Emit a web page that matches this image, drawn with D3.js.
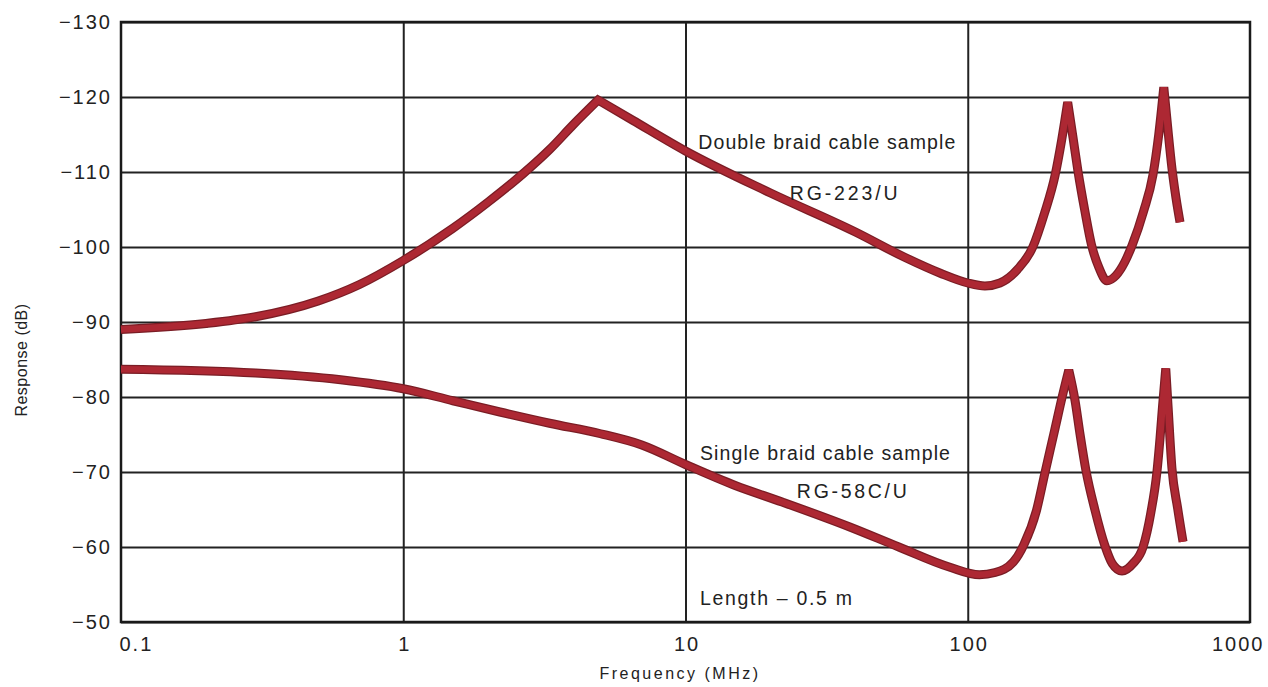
<!DOCTYPE html>
<html>
<head>
<meta charset="utf-8">
<script src="https://cdn.jsdelivr.net/npm/d3@7"></script>
<style>
  body { margin: 0; background: #fff; }
  svg { display: block; font-family: "Liberation Sans", Arial, sans-serif; }
  .tick text { fill: #222; font-size: 20px; letter-spacing: 2px; }
  .axis path { display: none; }
  .grid line { stroke: #222; stroke-width: 2; }
  .grid path { display: none; }
</style>
</head>
<body>
<div id="chart"></div>
<script>
// frequency (MHz), response (dB)
const doubleBraid = [
  [0.1, -89], [0.2, -89.8], [0.3, -90.7], [0.5, -92.8], [0.7, -95], [1, -98.2],
  [1.5, -102.5], [2, -106], [2.7, -110], [3.3, -113], [4, -116.3], [4.9, -119.6],
  [6.5, -116.9], [10, -112.8], [20, -107.2], [40, -102], [60, -98.6], [80, -96.5],
  [100, -95.2], [115, -94.8], [130, -95.2], [150, -97], [170, -100], [187, -104.5],
  [204, -109.6], [215, -114.2], [226, -119.3], [236, -114.6], [246, -110], [260, -104.8],
  [274, -100.4], [292, -97.2], [311, -95.5], [335, -96.2], [360, -98], [382, -100.2],
  [420, -104.8], [453, -109.6], [475, -115], [495, -121.3], [512, -115.6], [529, -110.5],
  [547, -106.5], [565, -103.3]
];
const singleBraid = [
  [0.1, -83.7], [0.3, -83.2], [0.6, -82.3], [1, -81.1], [1.5, -79.5], [2.2, -78],
  [3.3, -76.5], [5, -75.1], [7, -73.6], [10, -71], [15, -68.2], [22, -66],
  [38, -62.7], [57, -60], [86.5, -57.3], [110, -56.3], [125, -56.6], [145, -58],
  [158, -60.3], [175, -64.8], [188, -70], [203, -75.5], [216, -80], [228, -83.6],
  [240, -79.5], [250, -75], [262, -70.3], [282, -65], [306, -60.2], [325, -57.8],
  [352, -56.8], [385, -57.8], [418, -60], [445, -64.5], [468, -70], [480, -74.5],
  [490, -78.8], [503, -83.8], [512, -79], [529, -70.5], [554, -65.2], [579, -60.7]
];
// sharp corners of the traces
const doubleCusps = [4.9, 226, 495];
const singleCusps = [228, 503];

const yTicks = [-130, -120, -110, -100, -90, -80, -70, -60, -50];
const xTicks = [0.1, 1, 10, 100, 1000];
const xGrid = [1, 10, 100];
const notes = [
  { text: "Double braid cable sample", f: 11.1, db: -113.1, len: 257 },
  { text: "RG-223/U", f: 23.4, db: -106.3, len: 108 },
  { text: "Single braid cable sample", f: 11.25, db: -71.6, len: 250 },
  { text: "RG-58C/U", f: 24.8, db: -66.5, len: 110 },
  { text: "Length \u2013 0.5 m", f: 11.25, db: -52.3, len: 152 }
];

const W = 1268, H = 687;
const margin = { left: 121, right: 1250, top: 22, bottom: 622 };

const svg = d3.select("#chart").append("svg")
  .attr("width", W)
  .attr("height", H);

const x = d3.scaleLog().domain([0.1, 1000]).range([margin.left, margin.right]);
const y = d3.scaleLinear().domain([-130, -50]).range([margin.top, margin.bottom]);

// grid
svg.append("g")
  .attr("class", "grid")
  .attr("transform", `translate(${margin.left},0)`)
  .call(d3.axisLeft(y).tickValues(yTicks).tickSize(-(margin.right - margin.left)).tickFormat(""));

svg.append("g")
  .attr("class", "grid")
  .attr("transform", `translate(0,${margin.bottom})`)
  .call(d3.axisBottom(x).tickValues(xGrid).tickSize(-(margin.bottom - margin.top)).tickFormat(""));

svg.append("rect")
  .attr("x", margin.left)
  .attr("y", margin.top)
  .attr("width", margin.right - margin.left)
  .attr("height", margin.bottom - margin.top)
  .attr("fill", "none")
  .attr("stroke", "#1a1a1a")
  .attr("stroke-width", 2.5);

// tick labels
svg.append("g")
  .attr("class", "axis")
  .attr("transform", `translate(${margin.left},0)`)
  .call(d3.axisLeft(y).tickValues(yTicks).tickSize(0).tickPadding(9));

const xAxis = svg.append("g")
  .attr("class", "axis")
  .attr("transform", `translate(0,${margin.bottom})`)
  .call(d3.axisBottom(x).tickValues(xTicks).tickSize(0).tickPadding(15)
    .tickFormat(d => String(d)));

xAxis.selectAll(".tick text")
  .attr("text-anchor", d => d === 0.1 ? "start" : d === 1000 ? "end" : "middle")
  .attr("dx", d => d === 0.1 ? -2 : d === 1000 ? 14 : 1);

svg.append("text")
  .attr("x", 680)
  .attr("y", 679)
  .attr("text-anchor", "middle")
  .attr("font-size", 16)
  .attr("letter-spacing", 2.5)
  .attr("fill", "#222")
  .text("Frequency (MHz)");

svg.append("text")
  .attr("transform", "translate(27,360) rotate(-90)")
  .attr("text-anchor", "middle")
  .attr("font-size", 16)
  .attr("letter-spacing", 0.5)
  .attr("fill", "#222")
  .text("Response (dB)");

// curves: smooth pieces joined at the cusps so the corners stay sharp
const line = d3.line()
  .x(d => x(d[0]))
  .y(d => y(d[1]))
  .curve(d3.curveMonotoneX);

function tracePath(series, cusps) {
  const pieces = [];
  let start = 0;
  series.forEach((d, i) => {
    if (cusps.includes(d[0])) {
      pieces.push(series.slice(start, i + 1));
      start = i;
    }
  });
  pieces.push(series.slice(start));
  return pieces.map((p, i) => i ? line(p).replace(/^M/, "L") : line(p)).join("");
}

[[doubleBraid, doubleCusps], [singleBraid, singleCusps]].forEach(([series, cusps]) => {
  const d = tracePath(series, cusps);
  svg.append("path")
    .attr("fill", "none")
    .attr("stroke", "#7a1d25")
    .attr("stroke-width", 9)
    .attr("stroke-linejoin", "miter")
    .attr("stroke-miterlimit", 4)
    .attr("d", d);
  svg.append("path")
    .attr("fill", "none")
    .attr("stroke", "#ad2833")
    .attr("stroke-width", 6.5)
    .attr("stroke-linejoin", "miter")
    .attr("stroke-miterlimit", 4)
    .attr("d", d);
});

// annotations
svg.selectAll(".note")
  .data(notes)
  .enter()
  .append("text")
    .attr("class", "note")
    .attr("x", d => x(d.f))
    .attr("y", d => y(d.db))
    .attr("font-size", 19.5)
    .attr("fill", "#222")
    .attr("textLength", d => d.len)
    .attr("lengthAdjust", "spacing")
    .text(d => d.text);
</script>
</body>
</html>
